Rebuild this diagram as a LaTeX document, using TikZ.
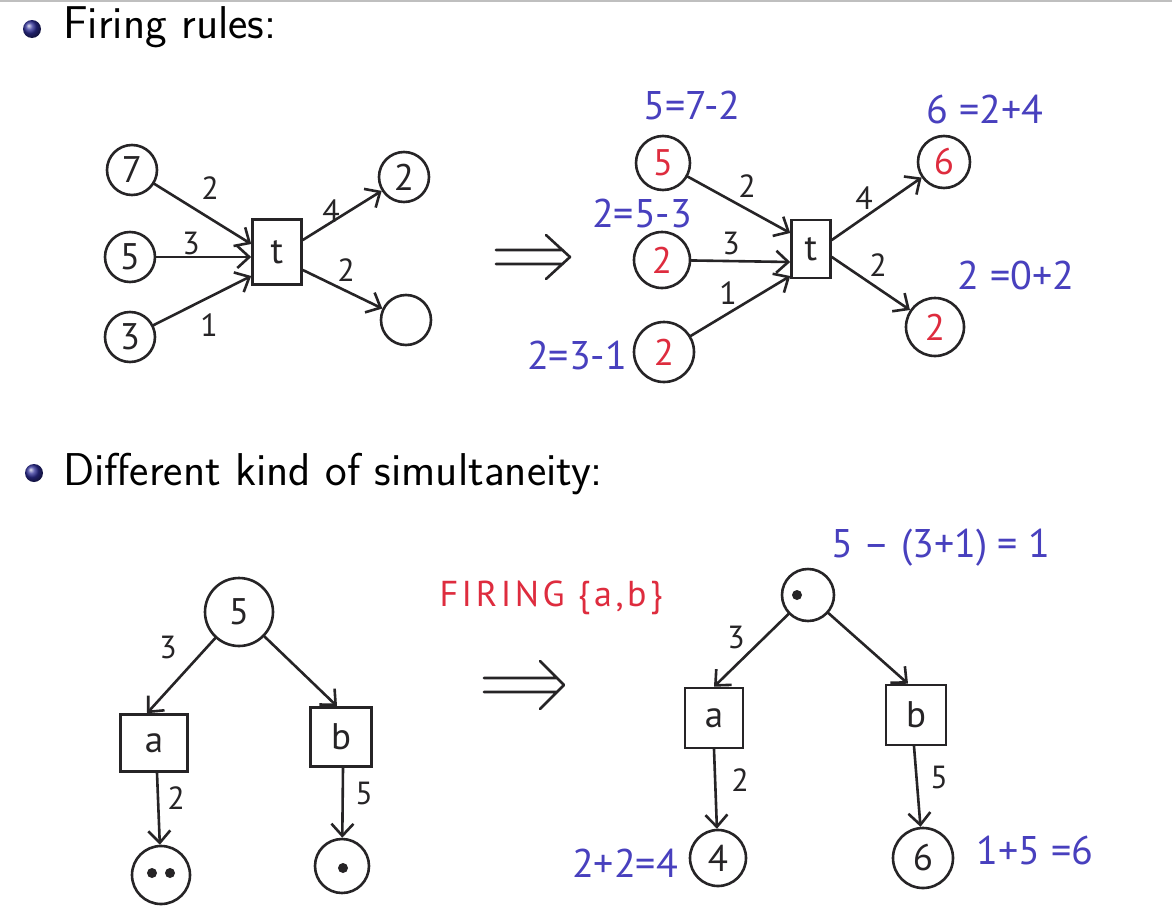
\documentclass[tikz,border=0pt]{standalone}
\usepackage{fontspec}
\newfontfamily\hand{PT Sans}
\newfontfamily\handwide[LetterSpace=10]{PT Sans}
\usetikzlibrary{arrows.meta,calc}
\definecolor{ink}{RGB}{38,36,38}
\definecolor{hblue}{RGB}{72,64,190}
\definecolor{hred}{RGB}{222,44,62}
\definecolor{ballblue}{RGB}{45,45,150}
\tikzset{
  place/.style={draw=ink, circle, line width=2.6pt, minimum size=#1, inner sep=0pt,
    font=\hand\fontsize{37}{37}\selectfont, text=ink},
  place/.default=50pt,
  trans/.style={draw=ink, rectangle, line width=2.6pt, inner sep=0pt,
    font=\hand\fontsize{37}{37}\selectfont, text=ink},
  arc/.style={draw=ink, line width=2.6pt, line cap=round,
    -{Straight Barb[length=12pt,width=22pt,line width=2.6pt]}},
  lbl/.style={font=\hand\fontsize{32}{32}\selectfont, text=ink, inner sep=0pt},
  note/.style={font=\hand\fontsize{40}{40}\selectfont, text=hblue, inner sep=0pt},
  rednote/.style={font=\handwide\fontsize{36}{36}\selectfont, text=hred, inner sep=0pt},
  head/.style={font=\sffamily\fontsize{46}{52}\selectfont, text=black, inner sep=0pt, anchor=base west},
  implies/.style={draw=ink, line width=2.6pt, line cap=round, line join=round},
  token/.style={fill=ink, circle, inner sep=0pt, minimum size=10pt}
}
\begin{document}
\begin{tikzpicture}[x=1pt,y=-1pt]
\useasboundingbox (0,0) rectangle (1172,910);
\fill[white] (0,0) rectangle (1172,910);
\draw[black!25, line width=1.5pt] (0,1) -- (1172,1);

% headings
\shade[ball color=ballblue] (32,29) circle (9);
\node[head] (h1) at (63,38) {Firing rules:};
\shade[ball color=ballblue] (34,473) circle (9);
\node[head] (h2) at (63,485) {Different kind of simultaneity:};

% ---------- top left net ----------
\node[place] (p7) at (132,170) {7};
\node[place] (p5) at (130,257) {5};
\node[place] (p3) at (130,337) {3};
\node[trans, minimum width=49pt, minimum height=65pt] (t) at (277,252) {t};
\node[place] (q2) at (404,177) {2};
\node[place] (q0) at (406,320) {};
\draw[arc] (p7) -- ($(t.west)+(0,-8)$);
\draw[arc] (p5) -- ($(t.west)+(0,5)$);
\draw[arc] (p3) -- ($(t.west)+(0,24)$);
\draw[arc] ($(t.east)+(0,-12)$) -- (q2);
\draw[arc] ($(t.east)+(0,18)$) -- (q0);
\node[lbl] (l1) at (210,188) {2};
\node[lbl] (l2) at (191,243) {3};
\node[lbl] (l3) at (209,325) {1};
\node[lbl] (l4) at (331,211) {4};
\node[lbl] (l5) at (346,270) {2};

% implies 1
\draw[implies] (496,250) -- (563,250) (496,264) -- (563,264) (546,235) -- (570,257) -- (546,279);

% ---------- top right net ----------
\node[place=54pt, text=hred] (r5) at (663,163) {5};
\node[place=56pt, text=hred] (r2a) at (662,260) {2};
\node[place=60pt, text=hred] (r2b) at (664,352) {2};
\node[trans, minimum width=39pt, minimum height=58pt] (t2) at (811,249) {t};
\node[place=52pt, text=hred] (r6) at (944,162) {6};
\node[place=58pt, text=hred] (r2c) at (935,327) {2};
\draw[arc] (r5) -- ($(t2.west)+(0,-16)$);
\draw[arc] (r2a) -- ($(t2.west)+(0,13)$);
\draw[arc] (r2b) -- ($(t2.west)+(0,27)$);
\draw[arc] ($(t2.east)+(0,-9)$) -- (r6);
\draw[arc] ($(t2.east)+(0,8)$) -- (r2c);
\node[lbl] (m1) at (747,186) {2};
\node[lbl] (m2) at (731,243) {3};
\node[lbl] (m3) at (728,293) {1};
\node[lbl] (m4) at (864,198) {4};
\node[lbl] (m5) at (878,265) {2};
\node[note] (n1) at (692,105) {5=7-2};
\node[note] (n2) at (642,213) {2=5-3};
\node[note] (n3) at (577,355) {2=3-1};
\node[note] (n4) at (985,109) {6 =2+4};
\node[note] (n5) at (1016,275) {2 =0+2};

% ---------- bottom left net ----------
\node[place=68pt] (b5) at (239,612) {5};
\node[trans, minimum width=67pt, minimum height=57pt] (ta) at (154,743) {a};
\node[trans, minimum width=61pt, minimum height=59pt] (tb) at (341,737) {b};
\node[place=58pt] (pdd) at (161,875) {};
\node[place=54pt] (pd) at (342,866) {};
\node[token] (k1) at (152,873) {};
\node[token] (k2) at (170,873) {};
\node[token] (k3) at (343,868) {};
\draw[arc] (b5) -- ($(ta.north)+(-7,0)$);
\draw[arc] (b5) -- ($(tb.north)+(-4,0)$);
\draw[arc] ($(ta.south)+(3,0)$) -- (pdd);
\draw[arc] ($(tb.south)+(2,0)$) -- (pd);
\node[lbl] (s1) at (168,647) {3};
\node[lbl] (s2) at (176,798) {2};
\node[lbl] (s3) at (364,793) {5};

% implies 2 and firing label
\draw[implies] (484,678) -- (557,678) (484,692) -- (557,692) (540,661) -- (564,685) -- (540,709);
\node[rednote] (fire) at (551,598) {FIRING \{a,b\}};

% ---------- bottom right net ----------
\node[place=52pt] (rd) at (808,595) {};
\node[token] (k4) at (797,595) {};
\node[trans, minimum width=58pt, minimum height=60pt] (ra) at (714,718) {a};
\node[trans, minimum width=60pt, minimum height=60pt] (rb) at (916,715) {b};
\node[place=56pt] (r4) at (718,858) {4};
\node[place=60pt] (r6b) at (923,858) {6};
\draw[arc] (rd) -- (ra.north);
\draw[arc] (rd) -- ($(rb.north)+(-8,0)$);
\draw[arc] (ra.south) -- (r4);
\draw[arc] ($(rb.south)+(-2,0)$) -- (r6b);
\node[lbl] (u1) at (736,637) {3};
\node[lbl] (u2) at (740,780) {2};
\node[lbl] (u3) at (939,777) {5};
\node[note] (n6) at (941,548) {5 – (3+1) = 1};
\node[note] (n7) at (625,863) {2+2=4};
\node[note] (n8) at (1035,850) {1+5 =6};
\end{tikzpicture}
\end{document}
